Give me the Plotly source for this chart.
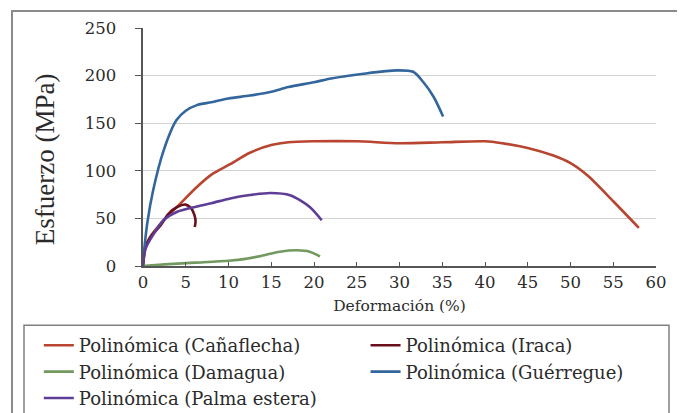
import plotly.graph_objects as go

# Data
canaflecha_x = [0, 0.2, 0.8, 2.4, 4.3, 6.3, 8, 10.2, 12.5, 15, 17, 20, 25, 30, 35, 40, 42, 45, 48, 50, 52, 55, 58]
canaflecha_y = [0, 18, 30, 48, 65, 83, 96, 107, 119, 127, 130, 131, 131, 129, 130, 131, 129, 124, 116, 108, 95, 68, 40]

iraca_x = [0, 0.3, 1, 2, 3, 4, 5, 5.6, 6.0, 6.15, 6.05]
iraca_y = [0, 20, 32, 42, 55, 62, 64.5, 61, 54, 47, 41]

damagua_x = [0, 3, 6, 10, 12, 14, 16, 18, 19.5, 20.7]
damagua_y = [0, 2, 3.5, 5.5, 7.5, 11, 15, 16.5, 15, 10]

guerregue_x = [0, 0.5, 1.2, 2.4, 3.9, 5, 6.3, 8, 10, 12.5, 15, 17, 20, 22, 25.8, 29.7, 31.6, 32.8, 34, 35.1]
guerregue_y = [5, 45, 80, 121, 153, 163, 169, 172, 176, 179, 183, 188, 193, 197, 202, 205.5, 204, 193, 177.5, 157]

palma_x = [0, 0.3, 1, 2.4, 4, 6.3, 8, 10.2, 12.5, 14.9, 17.2, 19.5, 20.9]
palma_y = [0, 18, 30, 48, 57, 62.5, 66, 71, 74.5, 76.7, 74.3, 62, 48]

x_ticks = list(range(0, 61, 5))
y_ticks = [0, 50, 100, 150, 200, 250]

x_title = "Deformación (%)"
y_title = "Esfuerzo (MPa)"

# (name, x, y, colour, legend column)
series = [
    ("Polinómica (Cañaflecha)", canaflecha_x, canaflecha_y, "#b8452f", "legend"),
    ("Polinómica (Iraca)", iraca_x, iraca_y, "#6a0f1c", "legend2"),
    ("Polinómica (Damagua)", damagua_x, damagua_y, "#72995f", "legend"),
    ("Polinómica (Guérregue)", guerregue_x, guerregue_y, "#33669c", "legend2"),
    ("Polinómica (Palma estera)", palma_x, palma_y, "#5e3d96", "legend"),
]

fig = go.Figure()
for name, xs, ys, col, leg in series:
    fig.add_trace(go.Scatter(
        x=xs, y=ys, name=name, mode="lines", legend=leg,
        line=dict(color=col, width=2.6, shape="spline", smoothing=0.8),
    ))

serif = "DejaVu Serif"
times = "Liberation Serif"
txt = "#2b2b2b"
pad = "\u00a0\u00a0\u00a0"

leg_common = dict(
    orientation="v", xref="container", yref="container",
    xanchor="left", yanchor="top",
    font=dict(family=serif, size=18, color=txt),
    bgcolor="rgba(0,0,0,0)", tracegroupgap=0,
)

# the page body adds an 8px offset, so figure positions are shifted up/left by 8px
fig.update_layout(
    width=685, height=413,
    margin=dict(l=135, r=37, t=20, b=155, autoexpand=False),
    paper_bgcolor="white", plot_bgcolor="white",
    font=dict(family=serif, color=txt),
    showlegend=True,
    legend=dict(x=0.045, y=0.2276, **leg_common),
    legend2=dict(x=0.522, y=0.2276, **leg_common),
    xaxis=dict(
        range=[0, 60], tickvals=x_ticks, ticktext=[str(v) for v in x_ticks],
        showgrid=False, zeroline=False, automargin=False,
        showline=True, linecolor="#555", linewidth=1.5,
        ticks="inside", ticklen=4, tickcolor="#555",
        tickfont=dict(family=serif, size=16.5, color=txt),
        title=dict(text=x_title, font=dict(family=serif, size=15.5, color=txt), standoff=10),
    ),
    yaxis=dict(
        range=[0, 250], tickvals=y_ticks, ticktext=[str(v) + pad for v in y_ticks],
        showgrid=True, gridcolor="#d2d2d2", gridwidth=1.3, zeroline=False, automargin=False,
        showline=True, linecolor="#555", linewidth=1.5,
        ticks="outside", ticklen=6, tickcolor="#555",
        tickfont=dict(family=serif, size=16.5, color=txt),
    ),
    annotations=[
        dict(text=y_title, xref="paper", yref="paper",
             x=(45 - 143) / 513, y=(265.7 - 159) / 238,
             xanchor="center", yanchor="middle", textangle=-90, showarrow=False,
             font=dict(family=times, size=27, color=txt)),
    ],
    shapes=[
        dict(type="rect", xref="paper", yref="paper",
             x0=(12 - 143) / 513, x1=1.2, y0=-1.0, y1=(265.7 - 10.7) / 238,
             line=dict(color="#8a8a8a", width=2), layer="below"),
        dict(type="rect", xref="paper", yref="paper",
             x0=(24 - 143) / 513, x1=(669 - 143) / 513, y0=-0.8, y1=(265.7 - 325) / 238,
             line=dict(color="#808080", width=1.5), layer="below"),
    ],
)

fig.write_html("out.html")
